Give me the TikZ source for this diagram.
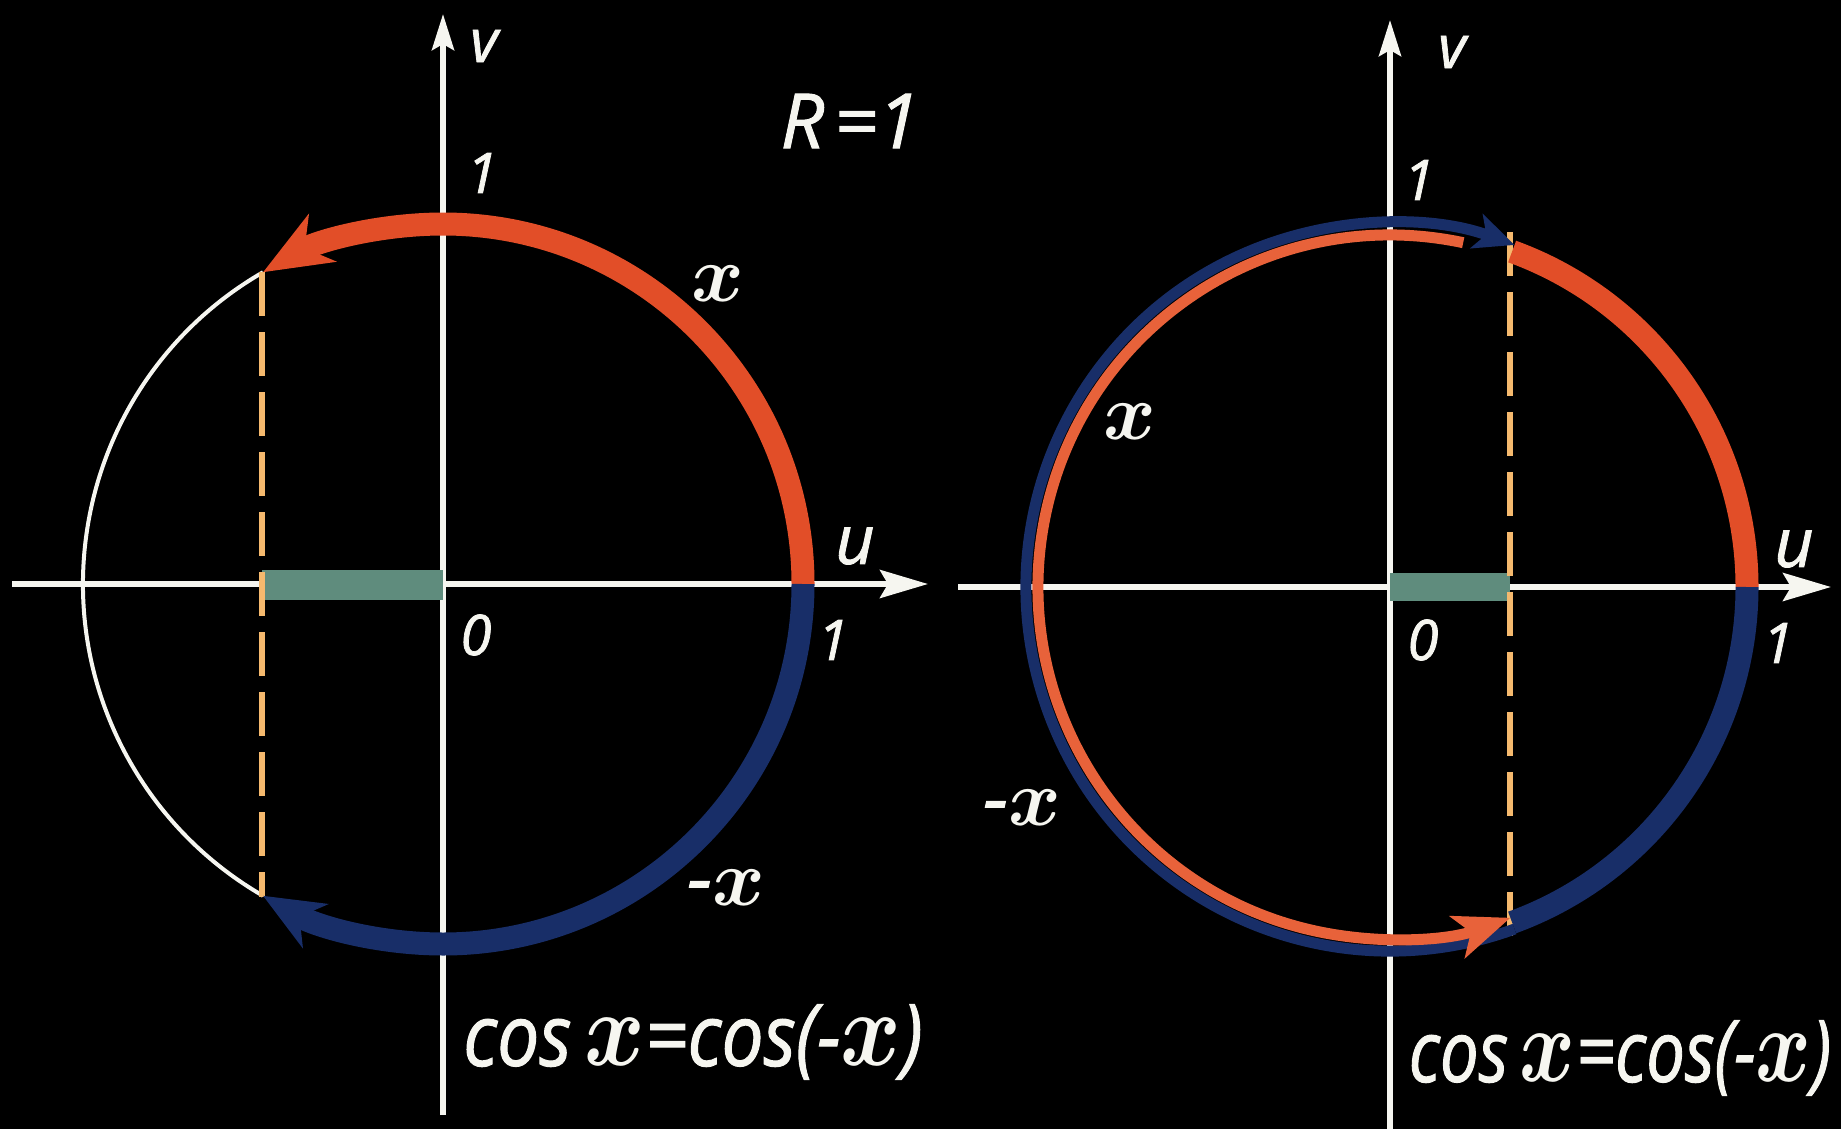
\documentclass[tikz,border=0pt]{standalone}
\usepackage{fontspec}
\setmainfont{Open Sans}[ItalicFeatures={FakeBold=1.3}]
\usetikzlibrary{arrows.meta}
\definecolor{wh}{RGB}{246,246,240}
\definecolor{rd}{RGB}{226,78,40}
\definecolor{rdl}{RGB}{232,98,58}
\definecolor{bl}{RGB}{24,46,104}
\definecolor{gr}{RGB}{95,140,125}
\definecolor{da}{RGB}{245,185,110}
\newcommand{\lf}[1]{\fontsize{#1}{#1}\selectfont\itshape}
\newcommand{\bx}[1]{\scalebox{#1}{\normalsize\boldmath$x$}}
\begin{document}
\begin{tikzpicture}[x=0.5pt,y=-0.5pt,
  axisline/.style={draw=wh,line width=2.9pt},
  thickarc/.style={line width=11.5pt},
  thinarc/.style={line width=5.5pt},
  dashline/.style={draw=da,line width=2.9pt,dash pattern=on 22pt off 8pt},
  lbl/.style={text=wh,inner sep=0pt,anchor=center},
  haxtip/.style={-{Stealth[length=24pt,width=14pt,inset=4pt]}},
  vaxtip/.style={-{Stealth[length=18pt,width=11pt,inset=3pt]}}
]
\fill[black] (0,0) rectangle (1841,1129);
\useasboundingbox (0,0) rectangle (1841,1129);

% ---------- left figure ----------
\coordinate (L0) at (443,584);
\coordinate (LxS) at (12,584);
\coordinate (LxE) at (928,584);
\coordinate (LyS) at (443,1115);
\coordinate (LyE) at (443,14);
\draw[axisline,haxtip] (LxS) -- (LxE);
\draw[axisline,vaxtip] (LyS) -- (LyE);

\fill[gr] (262,570) rectangle (443,600);

\draw[wh,line width=2pt] (L0) ++(-120:360) arc[start angle=-120,end angle=-240,radius=360];

\coordinate (LdT) at (262,272);
\coordinate (LdB) at (262,897);
\draw[dashline] (LdT) -- (LdB);

\draw[rd,thickarc,-{Stealth[length=34pt,width=27pt,inset=10pt]}] (L0) ++(0:360) arc[start angle=0,end angle=-120,radius=360];
\draw[bl,thickarc,-{Stealth[length=30pt,width=25pt,inset=9pt]}] (L0) ++(0:360) arc[start angle=0,end angle=120,radius=360];

\node[lbl] (Lv) at (484,46) {\lf{30}v};
\node[lbl] (L1t) at (482,173) {\lf{28}1};
\node[lbl] (LR) at (850,121) {\lf{38}R\kern5pt=1};
\node[lbl] (Lx) at (718,284) {\bx{4}};
\node[lbl] (Lu) at (855,546) {\lf{34}u};
\node[lbl] (L0l) at (476,635) {\lf{28}0};
\node[lbl] (L1r) at (833,640) {\lf{28}1};
\node[lbl] (Lmx) at (726,888) {\lf{40}-\bx{4}};
\node[lbl] (Lf) at (693,1042) {\scalebox{0.87}[1]{\lf{43}cos\,\bx{5.3}=cos(-\bx{5.3})}};

% ---------- right figure ----------
\coordinate (R0) at (1390,587);
\coordinate (RxS) at (958,587);
\coordinate (RxE) at (1831,587);
\coordinate (RyS) at (1390,1129);
\coordinate (RyE) at (1390,20);
\draw[axisline,haxtip] (RxS) -- (RxE);
\draw[axisline,vaxtip] (RyS) -- (RyE);

\fill[gr] (1390,573) rectangle (1510,601);

\coordinate (RdT) at (1510,232);
\coordinate (RdB) at (1510,942);
\draw[dashline] (RdT) -- (RdB);

\draw[rd,thickarc] (R0) ++(0:357) arc[start angle=0,end angle=-70,radius=357];
\draw[bl,thickarc] (R0) ++(0:357) arc[start angle=0,end angle=70,radius=357];
\draw[bl,thinarc,-{Stealth[length=20pt,width=18pt,inset=5pt]}] (R0) ++(70:364) arc[start angle=70,end angle=290,radius=364];
\draw[rdl,thinarc,-{Stealth[length=28pt,width=22pt,inset=7pt]}] (R0) ++(-78:352) arc[start angle=-78,end angle=-290,radius=352];

\node[lbl] (Rv) at (1452,52) {\lf{30}v};
\node[lbl] (R1t) at (1419,180) {\lf{28}1};
\node[lbl] (Rx) at (1130,422) {\bx{4}};
\node[lbl] (Ru) at (1794,549) {\lf{34}u};
\node[lbl] (R0l) at (1423,640) {\lf{28}0};
\node[lbl] (R1r) at (1778,643) {\lf{28}1};
\node[lbl] (Rmx) at (1022,808) {\lf{40}-\bx{4}};
\node[lbl] (Rf) at (1620,1058) {\scalebox{0.8}[1]{\lf{43}cos\,\bx{5.3}=cos(-\bx{5.3})}};
\end{tikzpicture}
\end{document}
